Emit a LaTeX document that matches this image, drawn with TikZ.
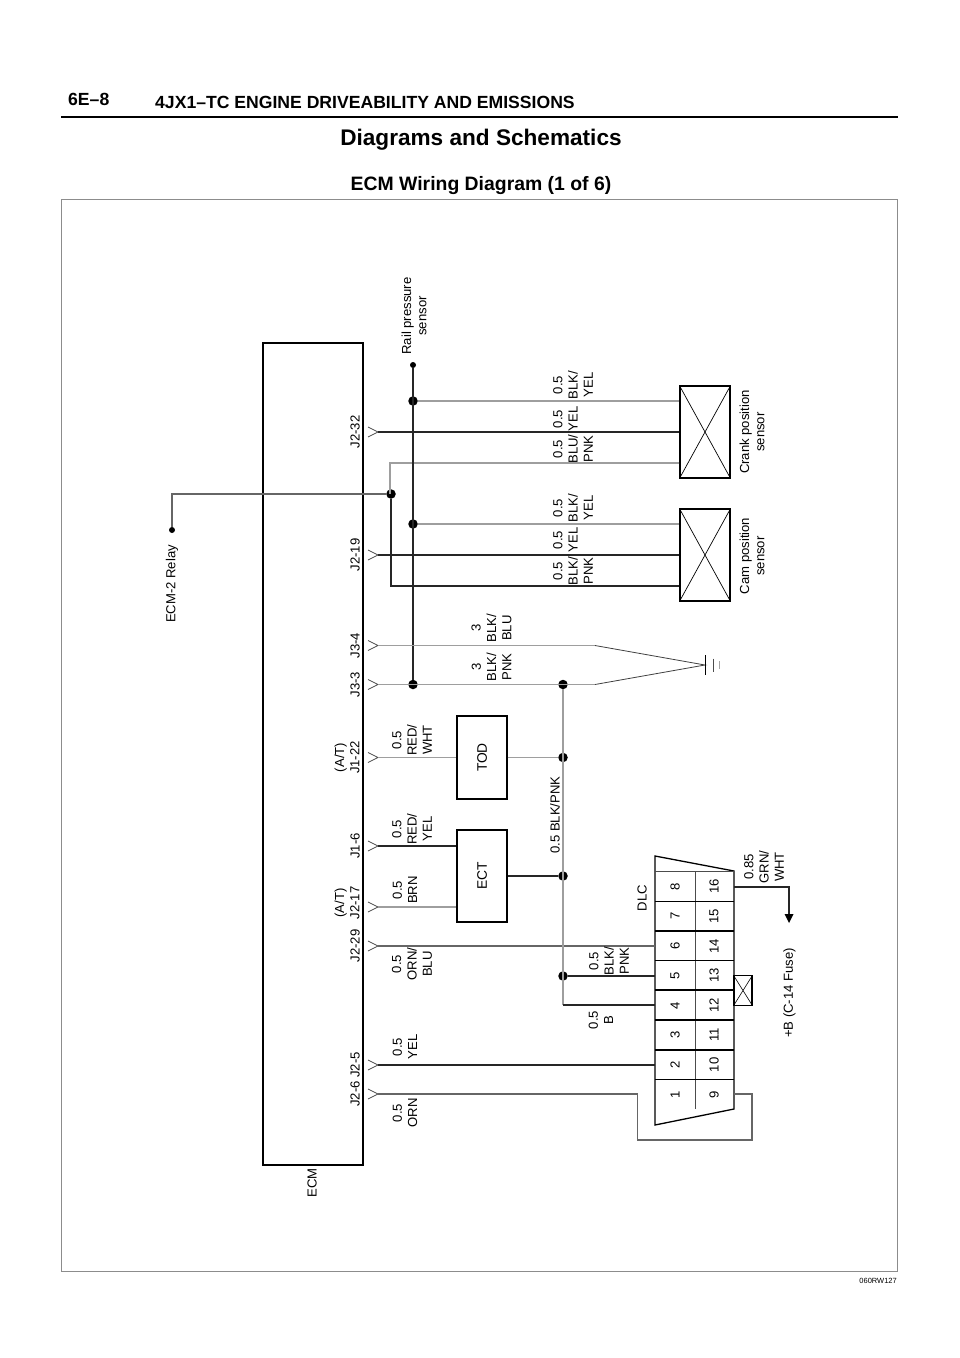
\documentclass[tikz,border=0pt]{standalone}
\usepackage{fontspec}
\setmainfont{Liberation Sans}
\tikzset{
  lbl/.style={rotate=90, align=center, inner sep=0pt, font=\fontsize{13.1}{15.3}\selectfont},
  headtxt/.style={inner sep=0pt, font=\bfseries\fontsize{#1}{#1}\selectfont},
  wire/.style={line width=1.3pt, black!85},
  graywire/.style={line width=1.1pt, black!38},
  midwire/.style={line width=1.6pt, black!60},
  pinline/.style={line width=.7pt, black!70},
  dot/.style={circle, fill=black, inner sep=0pt, minimum size=#1},
  dot/.default=9.5pt,
  boxnode/.style={draw, line width=1.3pt, minimum width=50pt, inner sep=0pt},
  sensorbox/.style={boxnode, minimum height=92pt},
  dlcline/.style={line width=1.3pt},
  dlcthin/.style={line width=.8pt, black!70}
}
\begin{document}
\begin{tikzpicture}[x=1pt,y=-1pt]
\useasboundingbox (0,0) rectangle (960,1358);

% page head
\node[headtxt=17.6, anchor=west] (pageno) at (68,99.5) {6E–8};
\node[headtxt=17.6, anchor=west] (pagehead) at (155,102) {4JX1–TC ENGINE DRIVEABILITY AND EMISSIONS};
\coordinate (ruleA) at (61,117);
\coordinate (ruleB) at (898,117);
\draw[line width=2pt] (ruleA) -- (ruleB);
\node[headtxt=22.6] (maintitle) at (481,139.5) {Diagrams and Schematics};
\node[headtxt=19.4] (subtitle) at (481,185.5) {ECM Wiring Diagram (1 of 6)};
\node[draw=black!45, line width=.8pt, inner sep=0pt, minimum width=836pt, minimum height=1072pt] (frame) at (479,735) {};
\node[anchor=east, inner sep=0pt, font=\fontsize{7.5}{8}\selectfont] (figno) at (897,1281) {060RW127};

% boxes
\node[draw, line width=1.5pt, minimum width=100pt, minimum height=822pt, inner sep=0pt] (ecm) at (313,754) {};
\node[sensorbox] (crank) at (705,432) {};
\node[sensorbox] (cam) at (705,555) {};
\draw[line width=.7pt] (crank.north west) -- (crank.south east) (crank.north east) -- (crank.south west);
\draw[line width=.7pt] (cam.north west) -- (cam.south east) (cam.north east) -- (cam.south west);
\node[boxnode, minimum height=83pt] (tod) at (482,757.5) {};
\node[lbl, font=\fontsize{13.8}{15}\selectfont] (todtxt) at (tod.center) {TOD};
\node[boxnode, minimum height=92pt] (ect) at (482,876) {};
\node[lbl, font=\fontsize{13.8}{15}\selectfont] (ecttxt) at (ect.center) {ECT};

% ecm pins
\foreach \name/\y in {j232/432, j219/555, j34/645.5, j33/684.5, j122/757.5, j16/846, j217/907, j229/946, j25/1065, j26/1094} {
  \coordinate (\name) at (378,\y);
  \draw[pinline] (368,\y-5) -- (378,\y) -- (368,\y+5);
}

% junctions
\node[dot] (railA) at (413,401) {};
\node[dot] (railB) at (413,524) {};
\node[dot] (railC) at (413,684.5) {};
\node[dot] (relayjn) at (391,494) {};
\node[dot=6pt] (railend) at (413,365) {};
\node[dot=6pt] (relayend) at (172,530) {};
\node[dot] (gndA) at (563,684.5) {};
\node[dot] (gndB) at (563,757.5) {};
\node[dot] (gndC) at (563,876) {};
\node[dot] (gndD) at (563,976) {};

% sensor wires
\coordinate (crankret) at (390,463);
\coordinate (camret) at (390,586);
\draw[graywire] (railA) -- (crank.west |- railA);
\draw[graywire] (railB) -- (cam.west |- railB);
\draw[wire] (j232) -- (crank.west |- j232);
\draw[wire] (j219) -- (cam.west |- j219);
\draw[graywire] (crank.west |- crankret) -- (crankret) -- (crankret |- relayjn);
\draw[wire] (relayjn |- camret) -- (relayjn);
\draw[wire] (camret) -- (cam.west |- camret);
\draw[midwire] (relayend) |- (relayjn);
\draw[wire] (railend) -- (railC);

% ground
\coordinate (gnd) at (705,665);
\coordinate (splitA) at (595,645.5);
\coordinate (splitB) at (595,684.5);
\draw[graywire] (j34) -- (splitA);
\draw[graywire] (j33) -- (splitB);
\draw[line width=.8pt, black!75] (splitA) -- (gnd) -- (splitB);
\draw[line width=.9pt] (705,655) -- (705,675);
\draw[line width=.9pt, black!70] (713,658.5) -- (713,671.5);
\draw[line width=.9pt, black!35] (719.5,661) -- (719.5,669);

% tod, ect
\draw[graywire] (j122) -- (tod.west |- j122);
\draw[graywire] (tod.east |- gndB) -- (gndB);
\draw[wire] (j16) -- (ect.west |- j16);
\draw[graywire] (j217) -- (ect.west |- j217);
\draw[wire] (ect.east |- gndC) -- (gndC);

% dlc
\coordinate (dlcNW) at (655,856);
\coordinate (dlcNE) at (734,871);
\coordinate (dlcSE) at (734,1109);
\coordinate (dlcSW) at (655,1125);
\draw[dlcline] (dlcNW) -- (dlcNE) -- (dlcSE) -- (dlcSW) -- cycle;
\draw[dlcthin] (655,871) -- (dlcNE);
\draw[dlcthin] (695,871) -- (695,1109);
\foreach \y in {901.5,931,960.5,990,1020,1050,1079.5}
  \draw[dlcline] (655,\y) -- (734,\y);
\foreach \i in {1,...,8} {
  \pgfmathsetmacro{\py}{1094.5-(\i-1)*29.7}
  \pgfmathtruncatemacro{\j}{\i+8}
  \node[lbl] (pin\i) at (675,\py) {\i};
  \node[lbl] (pin\j) at (714,\py) {\j};
}
\coordinate (dlcIn) at (655,1005);
\coordinate (dlcFuse) at (789,887);
\coordinate (fuseEnd) at (789,914);
\coordinate (loopA) at (637.5,1140);
\coordinate (loopB) at (752,1140);
\coordinate (pin9out) at (734,1094);
\draw[midwire] (j229) -- (655,946);
\draw[graywire] (gndA) -- (563,1005);
\draw[wire] (563,1005) -- (dlcIn);
\draw[wire] (gndD) -- (655,976);
\draw[wire] (j25) -- (655,1065);
\draw[midwire, line width=1.2pt] (j26) -| (loopA) -- (loopB) |- (pin9out);
\draw[wire] (734,887) -| (fuseEnd);
\fill (784.5,914) -- (793.5,914) -- (789,923) -- cycle;
\node[draw, line width=1.1pt, minimum width=18pt, minimum height=29.5pt, inner sep=0pt] (fusebox) at (743,990.5) {};
\draw[line width=.6pt] (fusebox.north west) -- (fusebox.south east) (fusebox.north east) -- (fusebox.south west);

% labels
\node[lbl] (lrail) at (414,316) {Rail pressure\\sensor};
\node[lbl] (lrelay) at (172,584) {ECM-2 Relay};
\node[lbl] (lecm) at (312,1183) {ECM};
\node[lbl] (pj232) at (355,432) {J2-32};
\node[lbl] (pj219) at (355,555) {J2-19};
\node[lbl] (pj34) at (355,645.5) {J3-4};
\node[lbl] (pj33) at (355,684.5) {J3-3};
\node[lbl] (pj122) at (347,757.5) {(A/T)\\J1-22};
\node[lbl] (pj16) at (355,846) {J1-6};
\node[lbl] (pj217) at (347,903) {(A/T)\\J2-17};
\node[lbl] (pj229) at (355,946) {J2-29};
\node[lbl] (pj25) at (355,1065) {J2-5};
\node[lbl] (pj26) at (355,1094) {J2-6};
\node[lbl] (wcrA) at (573,385) {0.5\\BLK/\\YEL};
\node[lbl] (wcrB) at (565.5,419) {0.5\\YEL};
\node[lbl] (wcrC) at (573,449) {0.5\\BLU/\\PNK};
\node[lbl] (wcaA) at (573,508) {0.5\\BLK/\\YEL};
\node[lbl] (wcaB) at (565.5,540) {0.5\\YEL};
\node[lbl] (wcaC) at (573,571) {0.5\\BLK/\\PNK};
\node[lbl] (wgA) at (491.5,628) {3\\BLK/\\BLU};
\node[lbl] (wgB) at (491.5,667) {3\\BLK/\\PNK};
\node[lbl] (wtod) at (412,740) {0.5\\RED/\\WHT};
\node[lbl] (wectA) at (412,829) {0.5\\RED/\\YEL};
\node[lbl] (wectB) at (405,890) {0.5\\BRN};
\node[lbl] (w229) at (412,964) {0.5\\ORN/\\BLU};
\node[lbl] (w25) at (405,1047) {0.5\\YEL};
\node[lbl] (w26) at (405,1113) {0.5\\ORN};
\node[lbl] (wgnd) at (555,815) {0.5 BLK/PNK};
\node[lbl] (wdlcA) at (609,961) {0.5\\BLK/\\PNK};
\node[lbl] (wdlcB) at (601,1020) {0.5\\B};
\node[lbl] (ldlc) at (642,898) {DLC};
\node[lbl] (wfuse) at (764,867) {0.85\\GRN/\\WHT};
\node[lbl] (lfuse) at (789.5,993) {+B (C-14 Fuse)};
\node[lbl] (lcrank) at (752,432) {Crank position\\sensor};
\node[lbl] (lcam) at (752,556) {Cam position\\sensor};
\end{tikzpicture}
\end{document}
